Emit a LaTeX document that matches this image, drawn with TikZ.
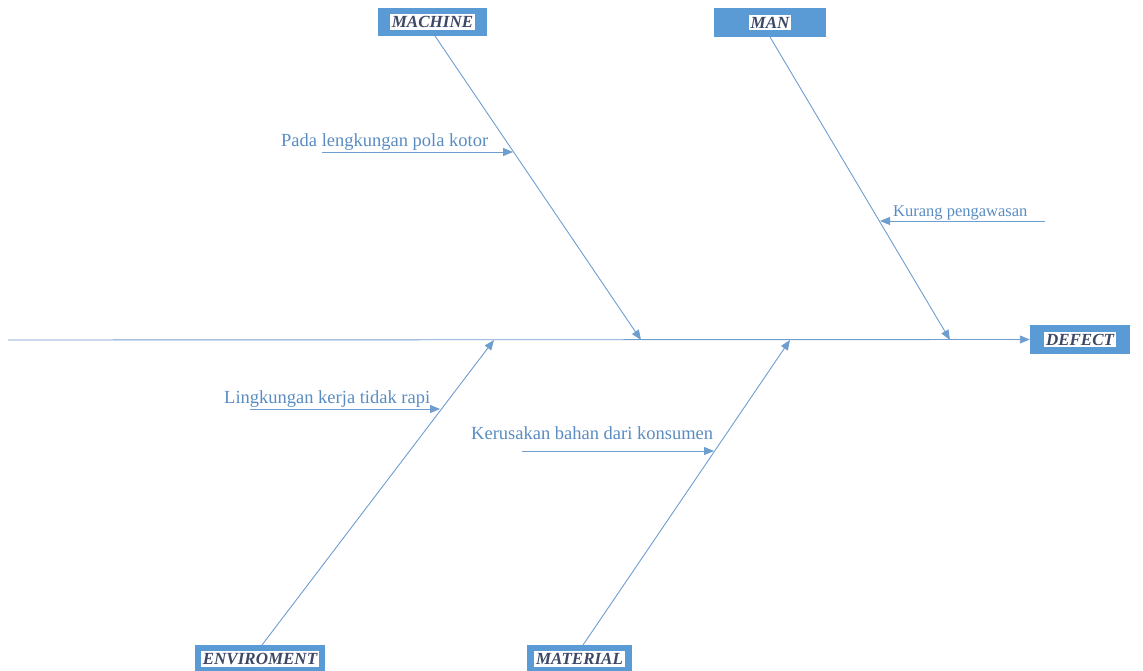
\documentclass[tikz,border=0pt]{standalone}
\usepackage{fontspec}
\setmainfont{Liberation Serif}
\usetikzlibrary{arrows.meta}
\definecolor{boxblue}{HTML}{5B9BD5}
\definecolor{bonecol}{HTML}{6E9DCF}
\definecolor{labelcol}{HTML}{5A8CC2}
\definecolor{headcol}{HTML}{3C4866}
\tikzset{
  catbox/.style={fill=boxblue, inner sep=0pt, font=\fontsize{17}{19}\selectfont\bfseries\itshape, text=headcol},
  bone/.style={draw=bonecol, line width=0.9pt, -{Triangle[length=10pt,width=8pt]}},
  cause/.style={font=\fontsize{18.5}{20}\selectfont, text=labelcol, inner sep=0pt, anchor=base west},
}
\newcommand{\whitetag}[1]{\setlength{\fboxsep}{2pt}\colorbox{white}{#1}}
\begin{document}
\begin{tikzpicture}[x=1pt,y=-1pt]
\useasboundingbox (0,0) rectangle (1143,671);
% category boxes
\node[catbox, minimum width=109pt, minimum height=28pt] (machine) at (432.5,22) {\whitetag{MACHINE}};
\node[catbox, minimum width=112pt, minimum height=29pt] (man) at (770,22.5) {\whitetag{MAN}};
\node[catbox, minimum width=100pt, minimum height=29pt] (defect) at (1080,339.5) {\whitetag{DEFECT}};
\node[catbox, minimum width=130pt, minimum height=28pt] (env) at (260,659) {\whitetag{ENVIROMENT}};
\node[catbox, minimum width=105pt, minimum height=28pt] (material) at (579.5,659) {\whitetag{MATERIAL}};
% spine
\coordinate (tail) at (8,340);
\coordinate (jmachine) at (641,340);
\coordinate (jman) at (950,340);
\coordinate (jenv) at (494,340);
\coordinate (jmat) at (790,340);
\draw[bone] (tail) -- (defect.west);
% main bones
\draw[bone] (435,36) -- (jmachine);
\draw[bone] (770,37) -- (jman);
\draw[bone] (262,645) -- (jenv);
\draw[bone] (583,645) -- (jmat);
% causes
\node[cause] (c1) at (281,147) {Pada lengkungan pola kotor};
\coordinate (c1a) at (322,152);
\coordinate (c1b) at (513,152);
\draw[bone] (c1a) -- (c1b);
\node[cause, font=\fontsize{16.5}{18}\selectfont] (c2) at (893,217) {Kurang pengawasan};
\coordinate (c2a) at (1045,221);
\coordinate (c2b) at (880,221);
\draw[bone] (c2a) -- (c2b);
\node[cause] (c3) at (224,403) {Lingkungan kerja tidak rapi};
\coordinate (c3a) at (250,409);
\coordinate (c3b) at (440,409);
\draw[bone] (c3a) -- (c3b);
\node[cause] (c4) at (471,439) {Kerusakan bahan dari konsumen};
\coordinate (c4a) at (522,451);
\coordinate (c4b) at (714,451);
\draw[bone] (c4a) -- (c4b);
\end{tikzpicture}
\end{document}
